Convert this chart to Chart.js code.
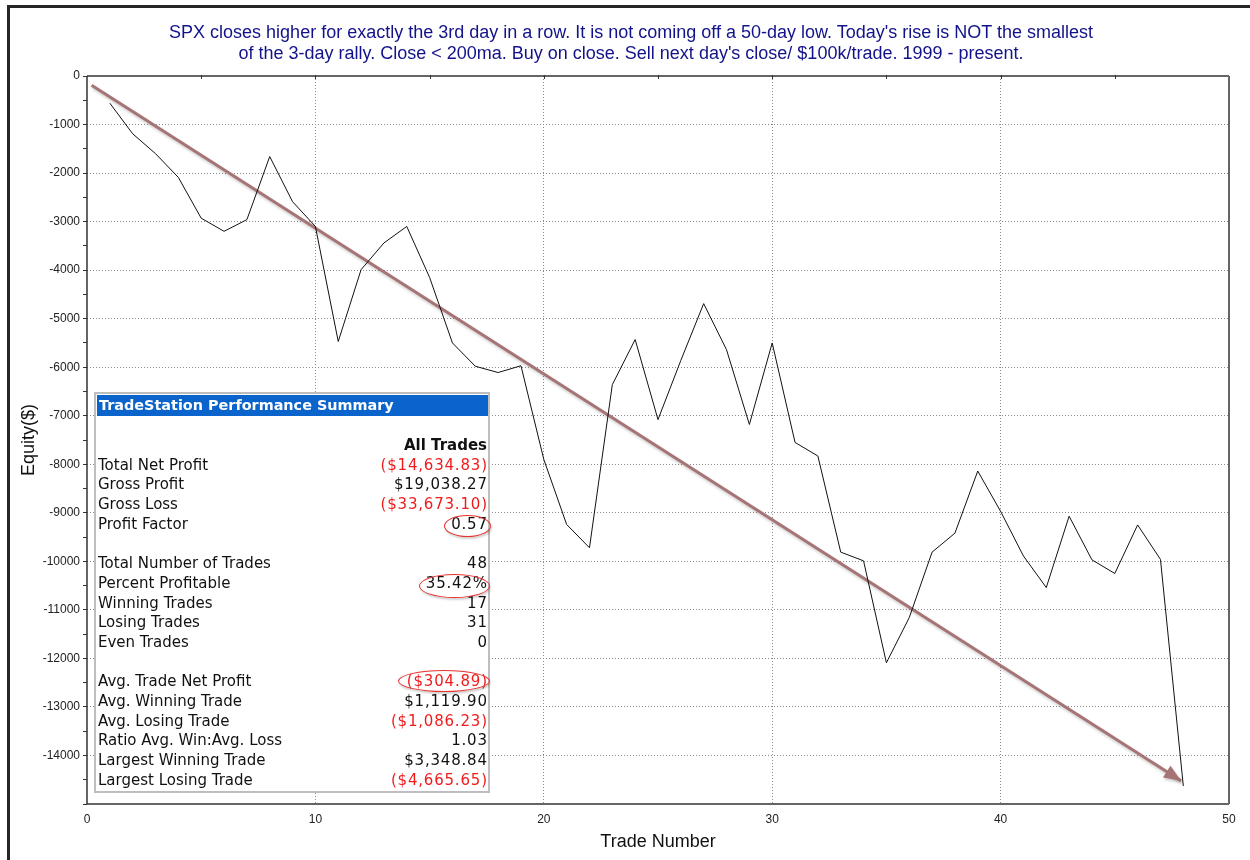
<!DOCTYPE html>
<html lang="en">
<head>
  <meta charset="UTF-8" />
  <title>SPX 3rd up day - equity curve</title>
  <script src="https://cdn.jsdelivr.net/npm/chart.js@4.4.0/dist/chart.umd.min.js"></script>
  <style>
    html, body { margin: 0; padding: 0; background: #fff; }
    body {
      width: 1250px;
      height: 860px;
      position: relative;
      overflow: hidden;
      font-family: "Liberation Sans", Arial, sans-serif;
    }
    .frame {
      position: absolute;
      left: 7px;
      top: 5px;
      width: 1260px;
      height: 870px;
      border-top: 3px solid #262626;
      border-left: 3px solid #262626;
      box-sizing: border-box;
    }
    .chart-wrap {
      position: absolute;
      left: 0;
      top: 0;
      width: 1250px;
      height: 860px;
    }
    .chart-title {
      position: absolute;
      left: 12px;
      width: 1238px;
      top: 21.5px;
      text-align: center;
      font-size: 18px;
      line-height: 21px;
      color: #12128a;
      white-space: nowrap;
    }
    .summary {
      position: absolute;
      left: 94px;
      top: 392px;
      width: 396px;
      height: 401px;
      box-sizing: border-box;
      border: 2px solid #bdbdbd;
      background: #fff;
      font-family: "DejaVu Sans", Tahoma, sans-serif;
      font-size: 15px;
      color: #111;
    }
    .summary .head {
      position: absolute;
      left: 1px;
      top: 1px;
      right: 0;
      height: 21px;
      background: #0a64cc;
      color: #fff;
      font-weight: bold;
      font-size: 14.4px;
      line-height: 21px;
      padding-left: 2px;
      white-space: nowrap;
    }
    .summary .rows {
      position: absolute;
      left: 2px;
      right: 1px;
      top: 42px;
    }
    .summary .row {
      height: 19.7px;
      line-height: 19.7px;
      display: flex;
      justify-content: space-between;
      white-space: nowrap;
    }
    .summary .row span + span { letter-spacing: 0.8px; margin-right: -0.8px; }
    .summary .neg { color: #f01c1c; }
    .summary .bold { font-weight: bold; letter-spacing: 0 !important; margin-right: 0 !important; }
    .ring {
      position: absolute;
      border: 1.5px solid #e8302c;
      border-radius: 50%;
      box-shadow: 1px 2px 2px rgba(0,0,0,0.18);
      box-sizing: border-box;
    }
  </style>
</head>
<body>
  <div class="frame"></div>
  <div class="chart-wrap"><canvas id="equityChart" width="1250" height="860"></canvas></div>
  <div class="chart-title" id="chartTitle"></div>
  <div class="summary" id="summary">
    <div class="head">TradeStation Performance Summary</div>
    <div class="rows" id="summaryRows"></div>
  </div>

  <script>
    // trade-by-trade equity
    const tradeNumbers = [1, 2, 3, 4, 5, 6, 7, 8, 9, 10, 11, 12, 13, 14, 15, 16, 17, 18, 19, 20, 21, 22, 23, 24,
                          25, 26, 27, 28, 29, 30, 31, 32, 33, 34, 35, 36, 37, 38, 39, 40, 41, 42, 43, 44, 45, 46, 47, 48];
    const equity = [-560, -1190, -1600, -2090, -2930, -3200, -2960, -1660, -2590, -3100, -5470, -3990,
                    -3440, -3100, -4150, -5500, -5980, -6110, -5970, -7900, -9240, -9720, -6360, -5430,
                    -7080, -5860, -4690, -5640, -7180, -5500, -7550, -7830, -9810, -9990, -12090, -11160,
                    -9810, -9420, -8140, -8970, -9890, -10540, -9070, -9970, -10250, -9250, -9960, -14630];

    // hand-drawn trend arrow (start, tip)
    const trendX = [0.2, 47.9];
    const trendY = [-190, -14520];

    const xMin = 0, xMax = 50, xStep = 5, xLabelEvery = 10;
    const yMin = -15000, yMax = 0, yStep = 500, yLabelEvery = 1000;

    const titleLines = [
      "SPX closes higher for exactly the 3rd day in a row. It is not coming off a 50-day low. Today's rise is NOT the smallest",
      "of the 3-day rally. Close < 200ma. Buy on close. Sell next day's close/ $100k/trade. 1999 - present."
    ];

    const summaryLabels = ["", "Total Net Profit", "Gross Profit", "Gross Loss", "Profit Factor", "",
      "Total Number of Trades", "Percent Profitable", "Winning Trades", "Losing Trades", "Even Trades", "",
      "Avg. Trade Net Profit", "Avg. Winning Trade", "Avg. Losing Trade", "Ratio Avg. Win:Avg. Loss",
      "Largest Winning Trade", "Largest Losing Trade"];
    const summaryValues = ["All Trades", "($14,634.83)", "$19,038.27", "($33,673.10)", "0.57", "",
      "48", "35.42%", "17", "31", "0", "",
      "($304.89)", "$1,119.90", "($1,086.23)", "1.03", "$3,348.84", "($4,665.65)"];

    // title
    const titleEl = document.getElementById('chartTitle');
    titleLines.forEach(t => {
      const d = document.createElement('div');
      d.textContent = t;
      titleEl.appendChild(d);
    });

    // summary table
    const rowsEl = document.getElementById('summaryRows');
    summaryLabels.forEach((lab, i) => {
      const val = summaryValues[i];
      const row = document.createElement('div');
      row.className = 'row';
      const a = document.createElement('span');
      a.textContent = lab;
      const b = document.createElement('span');
      b.textContent = val;
      if (i === 0) b.className = 'bold';
      else if (val.startsWith('(')) b.className = 'neg';
      row.appendChild(a);
      row.appendChild(b);
      rowsEl.appendChild(row);
    });

    // red circles drawn round a few numbers
    [[444, 515, 47, 22], [419, 574, 71, 24], [398, 670, 92, 22]].forEach(r => {
      const d = document.createElement('div');
      d.className = 'ring';
      d.style.left = r[0] + 'px';
      d.style.top = r[1] + 'px';
      d.style.width = r[2] + 'px';
      d.style.height = r[3] + 'px';
      document.body.appendChild(d);
    });

    const arrowColor = '#a67474';

    const framePlugin = {
      id: 'frameAndArrow',
      beforeDatasetDraw(chart, args) {
        if (args.index === 1) {
          const c = chart.ctx;
          c.save();
          c.shadowColor = 'rgba(0,0,0,0.22)';
          c.shadowBlur = 3;
          c.shadowOffsetX = 1;
          c.shadowOffsetY = 2;
        }
      },
      afterDatasetDraw(chart, args) {
        if (args.index === 1) {
          const c = chart.ctx;
          const pts = chart.getDatasetMeta(1).data;
          const p0 = pts[0], p1 = pts[pts.length - 1];
          const ang = Math.atan2(p1.y - p0.y, p1.x - p0.x);
          const len = 17, half = 7;
          c.fillStyle = arrowColor;
          c.beginPath();
          c.moveTo(p1.x, p1.y);
          c.lineTo(p1.x - len * Math.cos(ang) + half * Math.sin(ang), p1.y - len * Math.sin(ang) - half * Math.cos(ang));
          c.lineTo(p1.x - len * Math.cos(ang) - half * Math.sin(ang), p1.y - len * Math.sin(ang) + half * Math.cos(ang));
          c.closePath();
          c.fill();
          c.restore();
        }
      },
      afterDraw(chart) {
        const {ctx, chartArea: a, scales} = chart;
        ctx.save();
        ctx.lineWidth = 1.5;
        ctx.strokeStyle = '#333';
        ctx.beginPath();
        ctx.moveTo(a.left, a.top);
        ctx.lineTo(a.right, a.top);
        ctx.moveTo(a.left, a.top);
        ctx.lineTo(a.left, a.bottom);
        ctx.lineTo(a.right, a.bottom);
        ctx.stroke();
        ctx.strokeStyle = '#666';
        ctx.lineWidth = 2;
        ctx.beginPath();
        ctx.moveTo(a.right, a.top);
        ctx.lineTo(a.right, a.bottom);
        ctx.stroke();
        // small ticks along the top edge
        ctx.lineWidth = 1;
        ctx.strokeStyle = '#333';
        ctx.beginPath();
        for (let v = xMin + xStep; v < xMax; v += xStep) {
          const px = Math.round(scales.x.getPixelForValue(v)) + 0.5;
          ctx.moveTo(px, a.top - 1);
          ctx.lineTo(px, a.top + 3);
        }
        ctx.stroke();
        ctx.restore();
      }
    };

    const ctx = document.getElementById('equityChart').getContext('2d');
    const equityChart = new Chart(ctx, {
      type: 'line',
      data: {
        datasets: [
          {
            label: 'Equity',
            data: tradeNumbers.map((t, i) => ({x: t, y: equity[i]})),
            borderColor: '#111',
            borderWidth: 1,
            pointRadius: 0,
            tension: 0
          },
          {
            label: 'Trend',
            data: trendX.map((t, i) => ({x: t, y: trendY[i]})),
            borderColor: arrowColor,
            borderWidth: 3,
            pointRadius: 0,
            tension: 0
          }
        ]
      },
      options: {
        responsive: false,
        animation: false,
        layout: { padding: { left: 8, right: 21, top: 76, bottom: 0 } },
        plugins: {
          legend: { display: false },
          tooltip: { enabled: false },
          title: { display: false }
        },
        scales: {
          x: {
            type: 'linear',
            min: xMin,
            max: xMax,
            afterFit(scale) { scale.height = 56; },
            border: { display: false, dash: [1, 2] },
            grid: {
              drawTicks: false,
              lineWidth: 1,
              color: c => (c.tick && c.tick.value % xLabelEvery === 0 && c.tick.value > xMin && c.tick.value < xMax) ? '#8a8a8a' : 'transparent'
            },
            ticks: {
              stepSize: xStep,
              autoSkip: false,
              maxRotation: 0,
              padding: 8,
              color: '#222',
              font: { family: '"Liberation Sans", Arial, sans-serif', size: 12 },
              callback: v => (v % xLabelEvery === 0 ? String(v) : '')
            },
            title: {
              display: true,
              text: 'Trade Number',
              color: '#111',
              font: { family: '"Liberation Sans", Arial, sans-serif', size: 18 },
              padding: { top: 0, bottom: 7 }
            }
          },
          y: {
            type: 'linear',
            min: yMin,
            max: yMax,
            afterFit(scale) { scale.width = 79; },
            border: { display: false, dash: [1, 2] },
            grid: {
              drawTicks: true,
              tickLength: 4,
              tickColor: '#333',
              lineWidth: 1,
              color: c => (c.tick && c.tick.value % yLabelEvery === 0 && c.tick.value > yMin && c.tick.value < yMax) ? '#8a8a8a' : 'transparent'
            },
            ticks: {
              stepSize: yStep,
              autoSkip: false,
              padding: 3,
              color: '#222',
              font: { family: '"Liberation Sans", Arial, sans-serif', size: 12 },
              callback: v => (v % yLabelEvery === 0 && v > yMin ? String(v) : '')
            },
            title: {
              display: true,
              text: 'Equity($)',
              color: '#111',
              font: { family: '"Liberation Sans", Arial, sans-serif', size: 18 },
              padding: { top: 10, bottom: 0 }
            }
          }
        }
      },
      plugins: [framePlugin]
    });
  </script>
</body>
</html>
